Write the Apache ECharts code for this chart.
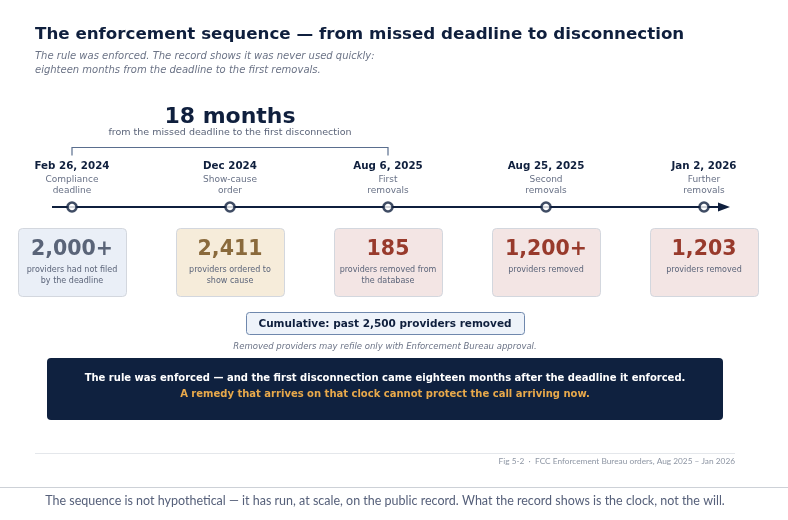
<!DOCTYPE html>
<html>
<head>
<meta charset="utf-8">
<script src="https://cdn.jsdelivr.net/npm/echarts@6/dist/echarts.min.js"></script>
<style>
  html, body { margin: 0; padding: 0; background: #fff; }
  #chart { width: 788px; height: 520px; }
</style>
</head>
<body>
<div id="chart"></div>
<script>
// timeline data
var dates = ['Feb 26, 2024', 'Dec 2024', 'Aug 6, 2025', 'Aug 25, 2025', 'Jan 2, 2026'];
var stages = [['Compliance', 'deadline'], ['Show-cause', 'order'], ['First', 'removals'], ['Second', 'removals'], ['Further', 'removals']];
var counts = ['2,000+', '2,411', '185', '1,200+', '1,203'];
var notes = [
    ['providers had not filed', 'by the deadline'],
    ['providers ordered to', 'show cause'],
    ['providers removed from', 'the database'],
    ['providers removed'],
    ['providers removed']
];
var kinds = ['gap', 'order', 'removal', 'removal', 'removal'];
// bracket spans from deadline (0) to first removals (2)
var span = [0, 2];

var NAVY = '#0f1f3d';
var GREY = '#5b6479';
var FONT = 'DejaVu Sans';
var cardColors = {
    gap: { fill: '#eaeff7', num: '#5a6478' },
    order: { fill: '#f6ecda', num: '#8a6a3c' },
    removal: { fill: '#f3e5e4', num: '#983a2c' }
};

var chart = echarts.init(document.getElementById('chart'), null, { renderer: 'canvas' });

function txt(x, y, s, size, weight, color) {
    return {
        type: 'text',
        style: {
            text: s, x: x, y: y, fill: color,
            font: weight + ' ' + size + 'px "' + FONT + '"',
            align: 'center', verticalAlign: 'middle'
        }
    };
}

var option = {
    animation: false,
    backgroundColor: '#ffffff',
    grid: { left: 72, right: 84, top: 207, height: 100 },
    xAxis: { type: 'value', min: 0, max: 4, show: false },
    yAxis: { type: 'value', min: 0, max: 1, show: false },
    graphic: [
        { type: 'text', left: 35, top: 26, style: { text: 'The enforcement sequence \u2014 from missed deadline to disconnection', font: 'bold 16.7px "DejaVu Sans"', fill: NAVY } },
        { type: 'text', left: 35, top: 49, style: { text: 'The rule was enforced. The record shows it was never used quickly:\neighteen months from the deadline to the first removals.', font: 'italic 10px "DejaVu Sans"', fill: '#6b7386', lineHeight: 14 } },
        // cumulative box
        { type: 'rect', shape: { x: 246.5, y: 312.5, width: 278, height: 22, r: 3 }, style: { fill: '#eef3fa', stroke: '#6f88ad', lineWidth: 1 } },
        { type: 'text', x: 385, y: 324, style: { text: 'Cumulative: past 2,500 providers removed', font: 'bold 10.5px "DejaVu Sans"', fill: NAVY, align: 'center', verticalAlign: 'middle' } },
        { type: 'text', x: 385, y: 347, style: { text: 'Removed providers may refile only with Enforcement Bureau approval.', font: 'italic 8.5px "DejaVu Sans"', fill: '#6b7386', align: 'center', verticalAlign: 'middle' } },
        // takeaway box
        { type: 'rect', shape: { x: 47, y: 358, width: 676, height: 62, r: 4 }, style: { fill: '#0f213f' } },
        { type: 'text', x: 385, y: 378, style: { text: 'The rule was enforced \u2014 and the first disconnection came eighteen months after the deadline it enforced.', font: 'bold 10px "DejaVu Sans"', fill: '#ffffff', align: 'center', verticalAlign: 'middle' } },
        { type: 'text', x: 385, y: 394, style: { text: 'A remedy that arrives on that clock cannot protect the call arriving now.', font: 'bold 10px "DejaVu Sans"', fill: '#e8a94b', align: 'center', verticalAlign: 'middle' } },
        // footer
        { type: 'line', shape: { x1: 35, y1: 453.5, x2: 735, y2: 453.5 }, style: { stroke: '#e4e7eb', lineWidth: 1 } },
        { type: 'text', x: 735, y: 461, style: { text: 'Fig 5-2  \u00b7  FCC Enforcement Bureau orders, Aug 2025 \u2013 Jan 2026', font: '8.3px "Lato"', fill: '#8e96a4', align: 'right', verticalAlign: 'middle' } },
        { type: 'line', shape: { x1: 0, y1: 487.5, x2: 788, y2: 487.5 }, style: { stroke: '#cdd1d7', lineWidth: 1 } },
        { type: 'text', x: 385, y: 501, style: { text: 'The sequence is not hypothetical \u2014 it has run, at scale, on the public record. What the record shows is the clock, not the will.', font: '12.5px "Lato"', fill: '#56607a', align: 'center', verticalAlign: 'middle' } }
    ],
    series: [
        {
            // spine and 18-month bracket
            type: 'custom',
            data: [[0, 1]],
            z: 1,
            renderItem: function (params, api) {
                var a = api.coord([0, 1]);
                var b = api.coord([dates.length - 1, 1]);
                var s0 = api.coord([span[0], 1]);
                var s1 = api.coord([span[1], 1]);
                var mid = (s0[0] + s1[0]) / 2;
                var y = a[1];
                var by = 147.5;
                return {
                    type: 'group',
                    children: [
                        { type: 'line', shape: { x1: a[0] - 20, y1: y, x2: b[0] + 16, y2: y }, style: { stroke: NAVY, lineWidth: 2 } },
                        { type: 'polygon', shape: { points: [[b[0] + 14, y - 4.5], [b[0] + 26, y], [b[0] + 14, y + 4.5]] }, style: { fill: NAVY } },
                        { type: 'polyline', shape: { points: [[s0[0], by + 8], [s0[0], by], [s1[0], by], [s1[0], by + 8]] }, style: { stroke: '#5a6e8e', lineWidth: 1.2, fill: null } },
                        txt(mid, 117, '18 months', 22, 'bold', NAVY),
                        txt(mid, 133, 'from the missed deadline to the first disconnection', 9.5, 'normal', GREY)
                    ]
                };
            }
        },
        {
            // labels and stat cards per stage
            type: 'custom',
            data: dates.map(function (d, i) { return [i, 1]; }),
            z: 2,
            renderItem: function (params, api) {
                var i = params.dataIndex;
                var p = api.coord([api.value(0), api.value(1)]);
                var x = p[0];
                var c = cardColors[kinds[i]];
                var kids = [
                    txt(x, 166, dates[i], 10.3, 'bold', NAVY),
                    txt(x, 180, stages[i][0], 9, 'normal', '#687186'),
                    txt(x, 191, stages[i][1], 9, 'normal', '#687186'),
                    { type: 'rect', shape: { x: x - 53.5, y: 228.5, width: 108, height: 68, r: 4 }, style: { fill: c.fill, stroke: '#d3d7de', lineWidth: 1 } },
                    txt(x, 250, counts[i], 20.5, 'bold', c.num)
                ];
                notes[i].forEach(function (n, k) {
                    kids.push(txt(x, 270 + k * 11, n, 8, 'normal', GREY));
                });
                return { type: 'group', children: kids };
            }
        },
        {
            type: 'scatter',
            data: dates.map(function (d, i) { return [i, 1]; }),
            symbol: 'circle',
            symbolSize: 9,
            z: 3,
            itemStyle: { color: '#ffffff', borderColor: NAVY, borderWidth: 2.6 },
            silent: true
        }
    ]
};

chart.setOption(option);
</script>
</body>
</html>
